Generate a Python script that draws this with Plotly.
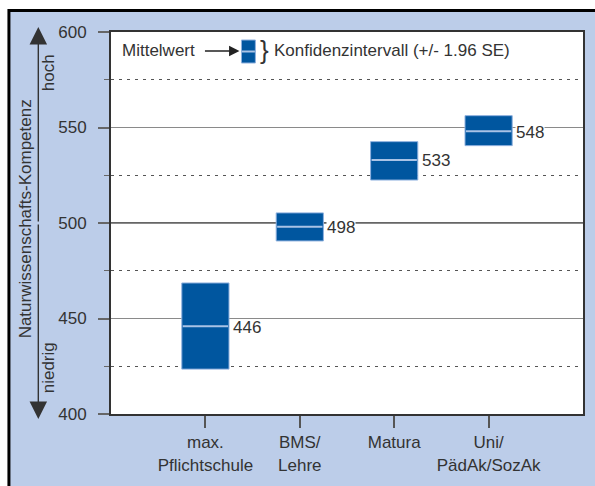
import plotly.graph_objects as go

categories = ["max.<br>Pflichtschule", "BMS/<br>Lehre", "Matura", "Uni/<br>PädAk/SozAk"]
means = [446, 498, 533, 548]
ci_lower = [423.5, 490.6, 522.5, 540.5]
ci_upper = [468.6, 505.3, 542.6, 556.2]
y_ticks = [400, 450, 500, 550, 600]

# layout geometry (pixels)
W, H = 595, 486
L, R, T, B = 111, 10, 32, 72
PW, PH = W - L - R, H - T - B

def px(x):
    return (x - L) / PW

def py(y):
    return (H - B - y) / PH

BLUE = "#00569f"
LIGHT = "#a9c3e6"
BG = "#bccde9"
TXT = "#333333"
FONT = "Liberation Sans, Arial, sans-serif"

idx = list(range(len(categories)))
heights = [u - l for u, l in zip(ci_upper, ci_lower)]
half = 0.25

fig = go.Figure()
fig.add_trace(go.Bar(
    x=idx, y=heights, base=ci_lower, width=2 * half,
    marker=dict(color=BLUE, line=dict(color="#8eb0de", width=1)),
    hoverinfo="skip", showlegend=False,
))
mx, my = [], []
for i, m in zip(idx, means):
    mx += [i - half + 0.01, i + half - 0.01, None]
    my += [m, m, None]
fig.add_trace(go.Scatter(x=mx, y=my, mode="lines",
                         line=dict(color=LIGHT, width=2),
                         hoverinfo="skip", showlegend=False))

annotations = []
label_bg = ["rgba(0,0,0,0)", "white", "white", "white"]
for i, m, bg in zip(idx, means, label_bg):
    annotations.append(dict(
        x=i + half, y=m, xref="x", yref="y", text=str(m), showarrow=False,
        xanchor="left", yanchor="middle", xshift=3, yshift=-1,
        bgcolor=bg, borderpad=0,
        font=dict(family=FONT, size=17, color=TXT)))

# legend
annotations.append(dict(x=px(120), y=py(50), xref="paper", yref="paper",
                        text="Mittelwert", showarrow=False, xanchor="left",
                        yanchor="middle", font=dict(family=FONT, size=17, color=TXT)))
annotations.append(dict(x=px(240), y=py(51), xref="paper", yref="paper",
                        text="", showarrow=True, ax=-36, ay=0, arrowhead=2,
                        arrowsize=1.6, arrowwidth=1.3, arrowcolor="#222"))
annotations.append(dict(x=px(265), y=py(50), xref="paper", yref="paper",
                        text="}", showarrow=False, xanchor="center",
                        yanchor="middle", font=dict(family=FONT, size=26, color=TXT)))
annotations.append(dict(x=px(273), y=py(50), xref="paper", yref="paper",
                        text="Konfidenzintervall (+/- 1.96 SE)", showarrow=False,
                        xanchor="left", yanchor="middle",
                        font=dict(family=FONT, size=17, color=TXT)))

# left axis arrows and labels
for tip, tail in [(27, 223), (419, 223)]:
    annotations.append(dict(x=px(38), y=py(tip), xref="paper", yref="paper",
                            text="", showarrow=True, ax=0, ay=tail - tip,
                            arrowhead=2, arrowsize=2.5, arrowwidth=1.4,
                            arrowcolor="#333"))
annotations.append(dict(x=px(25), y=py(219), xref="paper", yref="paper",
                        text="Naturwissenschafts-Kompetenz", textangle=-90,
                        xanchor="center", yanchor="middle",
                        showarrow=False, font=dict(family=FONT, size=17, color=TXT)))
annotations.append(dict(x=px(48), y=py(73), xref="paper", yref="paper",
                        text="hoch", textangle=-90, xanchor="center", yanchor="middle",
                        showarrow=False, font=dict(family=FONT, size=17, color=TXT)))
annotations.append(dict(x=px(48), y=py(368), xref="paper", yref="paper",
                        text="niedrig", textangle=-90, xanchor="center", yanchor="middle",
                        showarrow=False, font=dict(family=FONT, size=17, color=TXT)))

shapes = [
    # white margin strips and black frame of the panel
    dict(type="rect", xref="paper", yref="paper", x0=px(-5), x1=px(8), y0=py(-5), y1=py(500),
         fillcolor="white", line=dict(width=0), layer="above"),
    dict(type="rect", xref="paper", yref="paper", x0=px(-5), x1=px(600), y0=py(-5), y1=py(10),
         fillcolor="white", line=dict(width=0), layer="above"),
    dict(type="line", xref="paper", yref="paper", x0=px(8.5), x1=px(600), y0=py(10.5), y1=py(10.5),
         line=dict(color="black", width=3), layer="above"),
    dict(type="line", xref="paper", yref="paper", x0=px(8.5), x1=px(8.5), y0=py(9), y1=py(500),
         line=dict(color="black", width=3), layer="above"),
    # emphasised 500 line
    dict(type="line", xref="paper", yref="y", x0=0, x1=1, y0=500, y1=500,
         line=dict(color="#333", width=1.3), layer="below"),
    # legend icon
    dict(type="rect", xref="paper", yref="paper", x0=px(242), x1=px(256), y0=py(63), y1=py(40),
         fillcolor=BLUE, line=dict(color="#8eb0de", width=1), layer="above"),
    dict(type="line", xref="paper", yref="paper", x0=px(242.5), x1=px(255.5), y0=py(51.5), y1=py(51.5),
         line=dict(color=LIGHT, width=2), layer="above"),
]

fig.update_layout(
    width=W, height=H,
    margin=dict(l=L, r=R, t=T, b=B, pad=0),
    paper_bgcolor=BG, plot_bgcolor="white",
    font=dict(family=FONT, size=17, color=TXT),
    showlegend=False,
    annotations=annotations, shapes=shapes,
    xaxis=dict(range=[-1, 4], tickvals=idx, ticktext=categories,
               showgrid=False, zeroline=False, showline=True, mirror=True,
               linecolor="#333", linewidth=2, ticks="outside", ticklen=12,
               tickwidth=1.5, tickcolor="#555", tickfont=dict(size=17, color=TXT),
               fixedrange=True),
    yaxis=dict(range=[400, 600], tickvals=y_ticks, showgrid=True,
               gridcolor="#8a8a8a", gridwidth=1.3, zeroline=False,
               showline=True, mirror=True, linecolor="#333", linewidth=2,
               ticks="outside", ticklen=11, tickwidth=1.5, tickcolor="#666",
               tickfont=dict(size=17, color=TXT), ticklabelstandoff=8,
               minor=dict(tick0=425, dtick=50, ticks="outside", ticklen=5,
                          tickcolor="#666", tickwidth=1.2, showgrid=True,
                          gridcolor="#555", griddash="3px,5px", gridwidth=1.2),
               fixedrange=True),
)

fig.write_html("out.html", config={"displayModeBar": False},
               post_script="document.body.style.margin='0';")
